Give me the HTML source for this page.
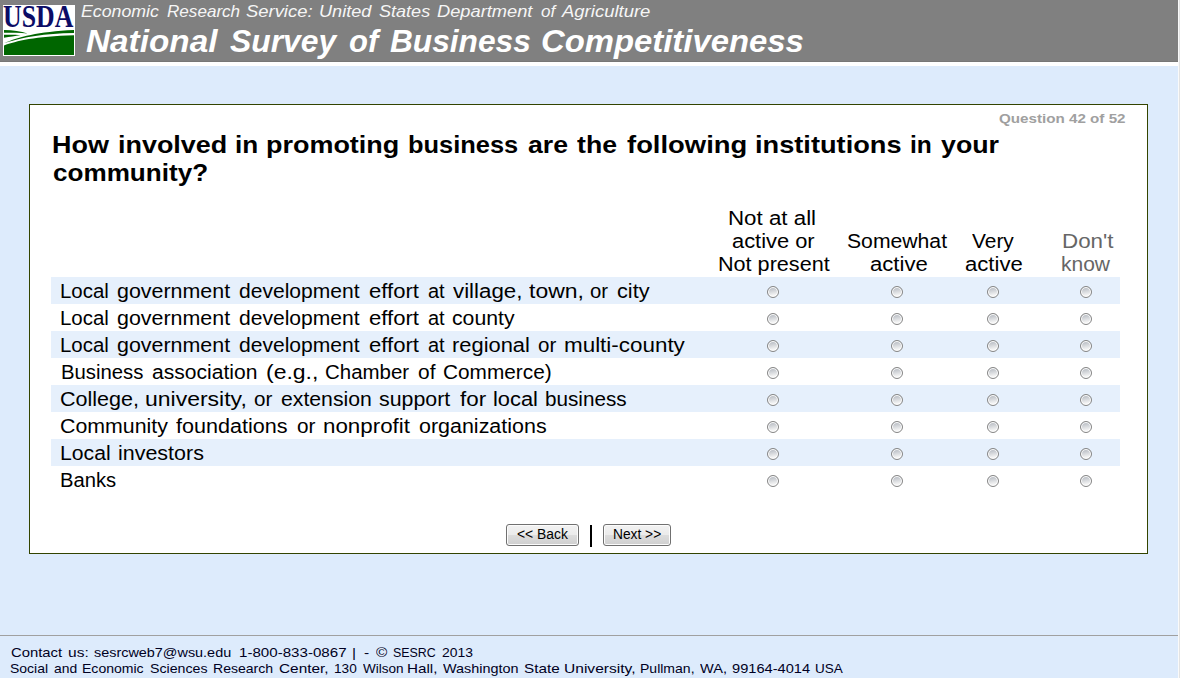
<!DOCTYPE html>
<html><head><meta charset="utf-8"><title>National Survey of Business Competitiveness</title>
<style>
html,body{margin:0;padding:0;overflow:hidden}
body{width:1180px;height:678px;position:relative;overflow:hidden;background:#ddebfc;font-family:"Liberation Sans", sans-serif}
.t{position:absolute;white-space:nowrap;transform-origin:0 0;font-family:"Liberation Sans", sans-serif}
.abs{position:absolute}
.radio{position:absolute;width:12px;height:12px;box-sizing:border-box;border-radius:50%;border:1px solid #858585;
 background:linear-gradient(170deg,#c0c4ca 20%,#f6f6f6 80%);box-shadow:inset 0 0 0 1px #fff}
.btn{position:absolute;box-sizing:border-box;height:22px;border:1px solid #707070;border-radius:3px;
 background:linear-gradient(#f2f2f2 0,#ebebeb 50%,#dddddd 50%,#cfcfcf 100%);box-shadow:inset 0 0 0 1px #fcfcfc}
</style></head><body>
<div class=abs style='left:0;top:0;width:1178px;height:62px;background:#808080'></div>
<div class=abs style='left:0;top:61px;width:1178px;height:1px;background:#777'></div>
<div class=abs style='left:0;top:62px;width:1178px;height:4px;background:#fff'></div>
<div class=abs style='left:1178px;top:0;width:1px;height:678px;background:#fafafa'></div>
<div class=abs style='left:1179px;top:0;width:1px;height:678px;background:#e3e3e3'></div>
<svg class=abs style='left:0;top:0' width="80" height="60" viewBox="0 0 80 60">
<rect x="3" y="5" width="72" height="51" fill="#fff"/>
<text x="3.1" y="26.6" font-family="Liberation Serif" font-weight="bold" font-size="31.5" fill="#0c0c66" textLength="70.2" lengthAdjust="spacingAndGlyphs">USDA</text>
<path d="M4 45.5 C 16 41, 35 36.5, 74 35.3 L74 55 L4 55 Z" fill="#006600"/>
<path d="M4.3 43 C 18 37, 38 31.5, 74 29.9 L74 32.9 C 44 33.3, 24 37, 4.3 43 Z" fill="#006600"/>
<path d="M4 30.1 C 13 30.3, 21 31.5, 27.5 33.6 C 20 32.8, 12 32.8, 4 32.8 Z" fill="#006600"/>
<path d="M4 34.8 C 10 34.6, 16 34.7, 20.5 35.2 C 15 35.8, 10 36.8, 4 37.8 Z" fill="#006600"/>
</svg>
<div class=t style='left:81.1px;top:3px;font-size:17px;line-height:17px;font-weight:normal;font-style:italic;color:#f6f6f6;transform:scaleX(1.0434);'>Economic</div>
<div class=t style='left:166.5px;top:3px;font-size:17px;line-height:17px;font-weight:normal;font-style:italic;color:#f6f6f6;transform:scaleX(1.0051);'>Research</div>
<div class=t style='left:245.8px;top:3px;font-size:17px;line-height:17px;font-weight:normal;font-style:italic;color:#f6f6f6;transform:scaleX(1.0829);'>Service:</div>
<div class=t style='left:318.53px;top:3px;font-size:17px;line-height:17px;font-weight:normal;font-style:italic;color:#f6f6f6;transform:scaleX(1.0660);'>United</div>
<div class=t style='left:378.5px;top:3px;font-size:17px;line-height:17px;font-weight:normal;font-style:italic;color:#f6f6f6;transform:scaleX(1.0617);'>States</div>
<div class=t style='left:437.2px;top:3px;font-size:17px;line-height:17px;font-weight:normal;font-style:italic;color:#f6f6f6;transform:scaleX(1.0744);'>Department</div>
<div class=t style='left:541.0px;top:3px;font-size:17px;line-height:17px;font-weight:normal;font-style:italic;color:#f6f6f6;transform:scaleX(1.0051);'>of</div>
<div class=t style='left:561.99px;top:3px;font-size:17px;line-height:17px;font-weight:normal;font-style:italic;color:#f6f6f6;transform:scaleX(1.0880);'>Agriculture</div>
<div class=t style='left:85.6px;top:26px;font-size:31px;line-height:31px;font-weight:bold;font-style:italic;color:#fff;transform:scaleX(1.0746);'>National</div>
<div class=t style='left:229.5px;top:26px;font-size:31px;line-height:31px;font-weight:bold;font-style:italic;color:#fff;transform:scaleX(1.0270);'>Survey</div>
<div class=t style='left:348.5px;top:26px;font-size:31px;line-height:31px;font-weight:bold;font-style:italic;color:#fff;transform:scaleX(1.0007);'>of</div>
<div class=t style='left:390.2px;top:26px;font-size:31px;line-height:31px;font-weight:bold;font-style:italic;color:#fff;transform:scaleX(1.0211);'>Business</div>
<div class=t style='left:540.64px;top:26px;font-size:31px;line-height:31px;font-weight:bold;font-style:italic;color:#fff;transform:scaleX(1.0594);'>Competitiveness</div>
<div class=abs style='left:29px;top:104px;width:1117px;height:448px;border:1px solid #334400;background:#fff'></div>
<div class=t style='left:998.7px;top:112px;font-size:13px;line-height:13px;font-weight:bold;font-style:normal;color:#a0a0a0;transform:scaleX(1.1676);'>Question 42 of 52</div>
<div class=t style='left:51.58px;top:133px;font-size:24px;line-height:24px;font-weight:bold;font-style:normal;color:#000;transform:scaleX(1.1222);'>How</div>
<div class=t style='left:117.68px;top:133px;font-size:24px;line-height:24px;font-weight:bold;font-style:normal;color:#000;transform:scaleX(1.1223);'>involved</div>
<div class=t style='left:235.11px;top:133px;font-size:24px;line-height:24px;font-weight:bold;font-style:normal;color:#000;transform:scaleX(1.0881);'>in</div>
<div class=t style='left:266.48px;top:133px;font-size:24px;line-height:24px;font-weight:bold;font-style:normal;color:#000;transform:scaleX(1.1233);'>promoting</div>
<div class=t style='left:407.94px;top:133px;font-size:24px;line-height:24px;font-weight:bold;font-style:normal;color:#000;transform:scaleX(1.0595);'>business</div>
<div class=t style='left:527.8px;top:133px;font-size:24px;line-height:24px;font-weight:bold;font-style:normal;color:#000;transform:scaleX(1.1096);'>are</div>
<div class=t style='left:577.4px;top:133px;font-size:24px;line-height:24px;font-weight:bold;font-style:normal;color:#000;transform:scaleX(1.1107);'>the</div>
<div class=t style='left:627.0px;top:133px;font-size:24px;line-height:24px;font-weight:bold;font-style:normal;color:#000;transform:scaleX(1.1420);'>following</div>
<div class=t style='left:755.37px;top:133px;font-size:24px;line-height:24px;font-weight:bold;font-style:normal;color:#000;transform:scaleX(1.1331);'>institutions</div>
<div class=t style='left:910.48px;top:133px;font-size:24px;line-height:24px;font-weight:bold;font-style:normal;color:#000;transform:scaleX(1.0239);'>in</div>
<div class=t style='left:941.0px;top:133px;font-size:24px;line-height:24px;font-weight:bold;font-style:normal;color:#000;transform:scaleX(1.1148);'>your</div>
<div class=t style='left:52.6px;top:161px;font-size:24px;line-height:24px;font-weight:bold;font-style:normal;color:#000;transform:scaleX(1.0872);'>community?</div>
<div class=t style='left:728.27px;top:208px;font-size:20px;line-height:20px;font-weight:normal;font-style:normal;color:#000;transform:scaleX(1.1158);'>Not at all</div>
<div class=t style='left:731.91px;top:231px;font-size:20px;line-height:20px;font-weight:normal;font-style:normal;color:#000;transform:scaleX(1.0933);'>active or</div>
<div class=t style='left:717.54px;top:254px;font-size:20px;line-height:20px;font-weight:normal;font-style:normal;color:#000;transform:scaleX(1.0802);'>Not present</div>
<div class=t style='left:847.4px;top:231px;font-size:20px;line-height:20px;font-weight:normal;font-style:normal;color:#000;transform:scaleX(1.0585);'>Somewhat</div>
<div class=t style='left:869.5px;top:254px;font-size:20px;line-height:20px;font-weight:normal;font-style:normal;color:#000;transform:scaleX(1.1060);'>active</div>
<div class=t style='left:971.5px;top:231px;font-size:20px;line-height:20px;font-weight:normal;font-style:normal;color:#000;transform:scaleX(1.0450);'>Very</div>
<div class=t style='left:964.97px;top:254px;font-size:20px;line-height:20px;font-weight:normal;font-style:normal;color:#000;transform:scaleX(1.1060);'>active</div>
<div class=t style='left:1061.62px;top:231px;font-size:20px;line-height:20px;font-weight:normal;font-style:normal;color:#666;transform:scaleX(1.1182);'>Don't</div>
<div class=t style='left:1060.95px;top:254px;font-size:20px;line-height:20px;font-weight:normal;font-style:normal;color:#666;transform:scaleX(1.0500);'>know</div>
<div class=abs style='left:51px;top:277px;width:1069px;height:27px;background:#e6f0fc'></div>
<div class=t style='left:60.08px;top:281px;font-size:20px;line-height:20px;font-weight:normal;font-style:normal;color:#000;transform:scaleX(1.0222);'>Local</div>
<div class=t style='left:117.0px;top:281px;font-size:20px;line-height:20px;font-weight:normal;font-style:normal;color:#000;transform:scaleX(1.0711);'>government</div>
<div class=t style='left:239.1px;top:281px;font-size:20px;line-height:20px;font-weight:normal;font-style:normal;color:#000;transform:scaleX(1.0525);'>development</div>
<div class=t style='left:368.6px;top:281px;font-size:20px;line-height:20px;font-weight:normal;font-style:normal;color:#000;transform:scaleX(1.1039);'>effort</div>
<div class=t style='left:427.5px;top:281px;font-size:20px;line-height:20px;font-weight:normal;font-style:normal;color:#000;transform:scaleX(0.9989);'>at</div>
<div class=t style='left:452.6px;top:281px;font-size:20px;line-height:20px;font-weight:normal;font-style:normal;color:#000;transform:scaleX(1.1153);'>village,</div>
<div class=t style='left:528.8px;top:281px;font-size:20px;line-height:20px;font-weight:normal;font-style:normal;color:#000;transform:scaleX(1.1482);'>town,</div>
<div class=t style='left:590.4px;top:281px;font-size:20px;line-height:20px;font-weight:normal;font-style:normal;color:#000;transform:scaleX(1.0153);'>or</div>
<div class=t style='left:617.3px;top:281px;font-size:20px;line-height:20px;font-weight:normal;font-style:normal;color:#000;transform:scaleX(1.0833);'>city</div>
<div class=radio style='left:766.9px;top:286px'></div>
<div class=radio style='left:891.0px;top:286px'></div>
<div class=radio style='left:986.8px;top:286px'></div>
<div class=radio style='left:1080.0px;top:286px'></div>
<div class=t style='left:60.08px;top:308px;font-size:20px;line-height:20px;font-weight:normal;font-style:normal;color:#000;transform:scaleX(1.0222);'>Local</div>
<div class=t style='left:117.0px;top:308px;font-size:20px;line-height:20px;font-weight:normal;font-style:normal;color:#000;transform:scaleX(1.0711);'>government</div>
<div class=t style='left:239.1px;top:308px;font-size:20px;line-height:20px;font-weight:normal;font-style:normal;color:#000;transform:scaleX(1.0534);'>development</div>
<div class=t style='left:368.7px;top:308px;font-size:20px;line-height:20px;font-weight:normal;font-style:normal;color:#000;transform:scaleX(1.1060);'>effort</div>
<div class=t style='left:427.7px;top:308px;font-size:20px;line-height:20px;font-weight:normal;font-style:normal;color:#000;transform:scaleX(0.9989);'>at</div>
<div class=t style='left:452.3px;top:308px;font-size:20px;line-height:20px;font-weight:normal;font-style:normal;color:#000;transform:scaleX(1.0607);'>county</div>
<div class=radio style='left:766.9px;top:313px'></div>
<div class=radio style='left:891.0px;top:313px'></div>
<div class=radio style='left:986.8px;top:313px'></div>
<div class=radio style='left:1080.0px;top:313px'></div>
<div class=abs style='left:51px;top:331px;width:1069px;height:27px;background:#e6f0fc'></div>
<div class=t style='left:60.08px;top:335px;font-size:20px;line-height:20px;font-weight:normal;font-style:normal;color:#000;transform:scaleX(1.0222);'>Local</div>
<div class=t style='left:117.0px;top:335px;font-size:20px;line-height:20px;font-weight:normal;font-style:normal;color:#000;transform:scaleX(1.0711);'>government</div>
<div class=t style='left:239.1px;top:335px;font-size:20px;line-height:20px;font-weight:normal;font-style:normal;color:#000;transform:scaleX(1.0534);'>development</div>
<div class=t style='left:368.7px;top:335px;font-size:20px;line-height:20px;font-weight:normal;font-style:normal;color:#000;transform:scaleX(1.1060);'>effort</div>
<div class=t style='left:427.7px;top:335px;font-size:20px;line-height:20px;font-weight:normal;font-style:normal;color:#000;transform:scaleX(0.9989);'>at</div>
<div class=t style='left:452.01px;top:335px;font-size:20px;line-height:20px;font-weight:normal;font-style:normal;color:#000;transform:scaleX(1.0944);'>regional</div>
<div class=t style='left:537.9px;top:335px;font-size:20px;line-height:20px;font-weight:normal;font-style:normal;color:#000;transform:scaleX(1.0263);'>or</div>
<div class=t style='left:563.88px;top:335px;font-size:20px;line-height:20px;font-weight:normal;font-style:normal;color:#000;transform:scaleX(1.1207);'>multi-county</div>
<div class=radio style='left:766.9px;top:340px'></div>
<div class=radio style='left:891.0px;top:340px'></div>
<div class=radio style='left:986.8px;top:340px'></div>
<div class=radio style='left:1080.0px;top:340px'></div>
<div class=t style='left:60.58px;top:362px;font-size:20px;line-height:20px;font-weight:normal;font-style:normal;color:#000;transform:scaleX(1.0156);'>Business</div>
<div class=t style='left:151.5px;top:362px;font-size:20px;line-height:20px;font-weight:normal;font-style:normal;color:#000;transform:scaleX(1.0532);'>association</div>
<div class=t style='left:265.85px;top:362px;font-size:20px;line-height:20px;font-weight:normal;font-style:normal;color:#000;transform:scaleX(1.1493);'>(e.g.,</div>
<div class=t style='left:324.98px;top:362px;font-size:20px;line-height:20px;font-weight:normal;font-style:normal;color:#000;transform:scaleX(1.0221);'>Chamber</div>
<div class=t style='left:417.9px;top:362px;font-size:20px;line-height:20px;font-weight:normal;font-style:normal;color:#000;transform:scaleX(1.0454);'>of</div>
<div class=t style='left:443.26px;top:362px;font-size:20px;line-height:20px;font-weight:normal;font-style:normal;color:#000;transform:scaleX(1.0400);'>Commerce)</div>
<div class=radio style='left:766.9px;top:367px'></div>
<div class=radio style='left:891.0px;top:367px'></div>
<div class=radio style='left:986.8px;top:367px'></div>
<div class=radio style='left:1080.0px;top:367px'></div>
<div class=abs style='left:51px;top:385px;width:1069px;height:27px;background:#e6f0fc'></div>
<div class=t style='left:60.12px;top:389px;font-size:20px;line-height:20px;font-weight:normal;font-style:normal;color:#000;transform:scaleX(1.0759);'>College,</div>
<div class=t style='left:144.75px;top:389px;font-size:20px;line-height:20px;font-weight:normal;font-style:normal;color:#000;transform:scaleX(1.1493);'>university,</div>
<div class=t style='left:254.0px;top:389px;font-size:20px;line-height:20px;font-weight:normal;font-style:normal;color:#000;transform:scaleX(1.0318);'>or</div>
<div class=t style='left:281.2px;top:389px;font-size:20px;line-height:20px;font-weight:normal;font-style:normal;color:#000;transform:scaleX(1.0605);'>extension</div>
<div class=t style='left:379.3px;top:389px;font-size:20px;line-height:20px;font-weight:normal;font-style:normal;color:#000;transform:scaleX(1.0677);'>support</div>
<div class=t style='left:459.5px;top:389px;font-size:20px;line-height:20px;font-weight:normal;font-style:normal;color:#000;transform:scaleX(1.1191);'>for</div>
<div class=t style='left:493.41px;top:389px;font-size:20px;line-height:20px;font-weight:normal;font-style:normal;color:#000;transform:scaleX(1.0935);'>local</div>
<div class=t style='left:545.37px;top:389px;font-size:20px;line-height:20px;font-weight:normal;font-style:normal;color:#000;transform:scaleX(1.0342);'>business</div>
<div class=radio style='left:766.9px;top:394px'></div>
<div class=radio style='left:891.0px;top:394px'></div>
<div class=radio style='left:986.8px;top:394px'></div>
<div class=radio style='left:1080.0px;top:394px'></div>
<div class=t style='left:60.03px;top:416px;font-size:20px;line-height:20px;font-weight:normal;font-style:normal;color:#000;transform:scaleX(1.0666);'>Community</div>
<div class=t style='left:176.4px;top:416px;font-size:20px;line-height:20px;font-weight:normal;font-style:normal;color:#000;transform:scaleX(1.0791);'>foundations</div>
<div class=t style='left:296.5px;top:416px;font-size:20px;line-height:20px;font-weight:normal;font-style:normal;color:#000;transform:scaleX(1.0374);'>or</div>
<div class=t style='left:322.68px;top:416px;font-size:20px;line-height:20px;font-weight:normal;font-style:normal;color:#000;transform:scaleX(1.1168);'>nonprofit</div>
<div class=t style='left:418.6px;top:416px;font-size:20px;line-height:20px;font-weight:normal;font-style:normal;color:#000;transform:scaleX(1.0726);'>organizations</div>
<div class=radio style='left:766.9px;top:421px'></div>
<div class=radio style='left:891.0px;top:421px'></div>
<div class=radio style='left:986.8px;top:421px'></div>
<div class=radio style='left:1080.0px;top:421px'></div>
<div class=abs style='left:51px;top:439px;width:1069px;height:27px;background:#e6f0fc'></div>
<div class=t style='left:60.04px;top:443px;font-size:20px;line-height:20px;font-weight:normal;font-style:normal;color:#000;transform:scaleX(1.0589);'>Local</div>
<div class=t style='left:117.63px;top:443px;font-size:20px;line-height:20px;font-weight:normal;font-style:normal;color:#000;transform:scaleX(1.0730);'>investors</div>
<div class=radio style='left:766.9px;top:448px'></div>
<div class=radio style='left:891.0px;top:448px'></div>
<div class=radio style='left:986.8px;top:448px'></div>
<div class=radio style='left:1080.0px;top:448px'></div>
<div class=t style='left:60.39px;top:470px;font-size:20px;line-height:20px;font-weight:normal;font-style:normal;color:#000;transform:scaleX(1.0112);'>Banks</div>
<div class=radio style='left:766.9px;top:475px'></div>
<div class=radio style='left:891.0px;top:475px'></div>
<div class=radio style='left:986.8px;top:475px'></div>
<div class=radio style='left:1080.0px;top:475px'></div>
<div class=btn style='left:506px;top:524px;width:73px'></div>
<div class=t style='left:516.5px;top:527px;font-size:14px;line-height:14px;font-weight:normal;font-style:normal;color:#000;transform:scaleX(0.9920);'>&lt;&lt; Back</div>
<div class=abs style='left:590px;top:525px;width:2px;height:22px;background:#000'></div>
<div class=btn style='left:603px;top:524px;width:68px'></div>
<div class=t style='left:612.5px;top:527px;font-size:14px;line-height:14px;font-weight:normal;font-style:normal;color:#000;transform:scaleX(0.9830);'>Next &gt;&gt;</div>
<div class=abs style='left:0;top:635px;width:1178px;height:1px;background:#a0a0a0'></div>
<div class=t style='left:10.6px;top:646px;font-size:13px;line-height:13px;font-weight:normal;font-style:normal;color:#000022;transform:scaleX(1.1396);'>Contact</div>
<div class=t style='left:68.1px;top:646px;font-size:13px;line-height:13px;font-weight:normal;font-style:normal;color:#000022;transform:scaleX(1.1955);'>us:</div>
<div class=t style='left:94.1px;top:646px;font-size:13px;line-height:13px;font-weight:normal;font-style:normal;color:#000022;transform:scaleX(1.1083);'>sesrcweb7@wsu.edu</div>
<div class=t style='left:238.6px;top:646px;font-size:13px;line-height:13px;font-weight:normal;font-style:normal;color:#000022;transform:scaleX(1.1627);'>1-800-833-0867</div>
<div class=t style='left:352.4px;top:646px;font-size:13px;line-height:13px;font-weight:normal;font-style:normal;color:#000022;transform:scaleX(1.1973);'>|</div>
<div class=t style='left:363.7px;top:646px;font-size:13px;line-height:13px;font-weight:normal;font-style:normal;color:#000022;transform:scaleX(1.1973);'>-</div>
<div class=t style='left:375.6px;top:646px;font-size:13px;line-height:13px;font-weight:normal;font-style:normal;color:#000022;transform:scaleX(1.1800);'>©</div>
<div class=t style='left:393.4px;top:646px;font-size:13px;line-height:13px;font-weight:normal;font-style:normal;color:#000022;transform:scaleX(0.9549);'>SESRC</div>
<div class=t style='left:441.6px;top:646px;font-size:13px;line-height:13px;font-weight:normal;font-style:normal;color:#000022;transform:scaleX(1.0701);'>2013</div>
<div class=t style='left:10.2px;top:662px;font-size:13px;line-height:13px;font-weight:normal;font-style:normal;color:#000022;transform:scaleX(1.0755);'>Social</div>
<div class=t style='left:54.4px;top:662px;font-size:13px;line-height:13px;font-weight:normal;font-style:normal;color:#000022;transform:scaleX(1.0671);'>and</div>
<div class=t style='left:82.22px;top:662px;font-size:13px;line-height:13px;font-weight:normal;font-style:normal;color:#000022;transform:scaleX(1.0799);'>Economic</div>
<div class=t style='left:150.4px;top:662px;font-size:13px;line-height:13px;font-weight:normal;font-style:normal;color:#000022;transform:scaleX(1.0911);'>Sciences</div>
<div class=t style='left:213.42px;top:662px;font-size:13px;line-height:13px;font-weight:normal;font-style:normal;color:#000022;transform:scaleX(1.0807);'>Research</div>
<div class=t style='left:279.3px;top:662px;font-size:13px;line-height:13px;font-weight:normal;font-style:normal;color:#000022;transform:scaleX(1.1815);'>Center,</div>
<div class=t style='left:334.1px;top:662px;font-size:13px;line-height:13px;font-weight:normal;font-style:normal;color:#000022;transform:scaleX(1.0485);'>130</div>
<div class=t style='left:362.6px;top:662px;font-size:13px;line-height:13px;font-weight:normal;font-style:normal;color:#000022;transform:scaleX(1.0407);'>Wilson</div>
<div class=t style='left:407.13px;top:662px;font-size:13px;line-height:13px;font-weight:normal;font-style:normal;color:#000022;transform:scaleX(1.1683);'>Hall,</div>
<div class=t style='left:442.8px;top:662px;font-size:13px;line-height:13px;font-weight:normal;font-style:normal;color:#000022;transform:scaleX(1.1084);'>Washington</div>
<div class=t style='left:524.1px;top:662px;font-size:13px;line-height:13px;font-weight:normal;font-style:normal;color:#000022;transform:scaleX(1.1751);'>State</div>
<div class=t style='left:564.3px;top:662px;font-size:13px;line-height:13px;font-weight:normal;font-style:normal;color:#000022;transform:scaleX(1.1973);'>University,</div>
<div class=t style='left:640.12px;top:662px;font-size:13px;line-height:13px;font-weight:normal;font-style:normal;color:#000022;transform:scaleX(1.0783);'>Pullman,</div>
<div class=t style='left:700.0px;top:662px;font-size:13px;line-height:13px;font-weight:normal;font-style:normal;color:#000022;transform:scaleX(1.1211);'>WA,</div>
<div class=t style='left:732.3px;top:662px;font-size:13px;line-height:13px;font-weight:normal;font-style:normal;color:#000022;transform:scaleX(1.1262);'>99164-4014</div>
<div class=t style='left:815.16px;top:662px;font-size:13px;line-height:13px;font-weight:normal;font-style:normal;color:#000022;transform:scaleX(1.0407);'>USA</div>
</body></html>
